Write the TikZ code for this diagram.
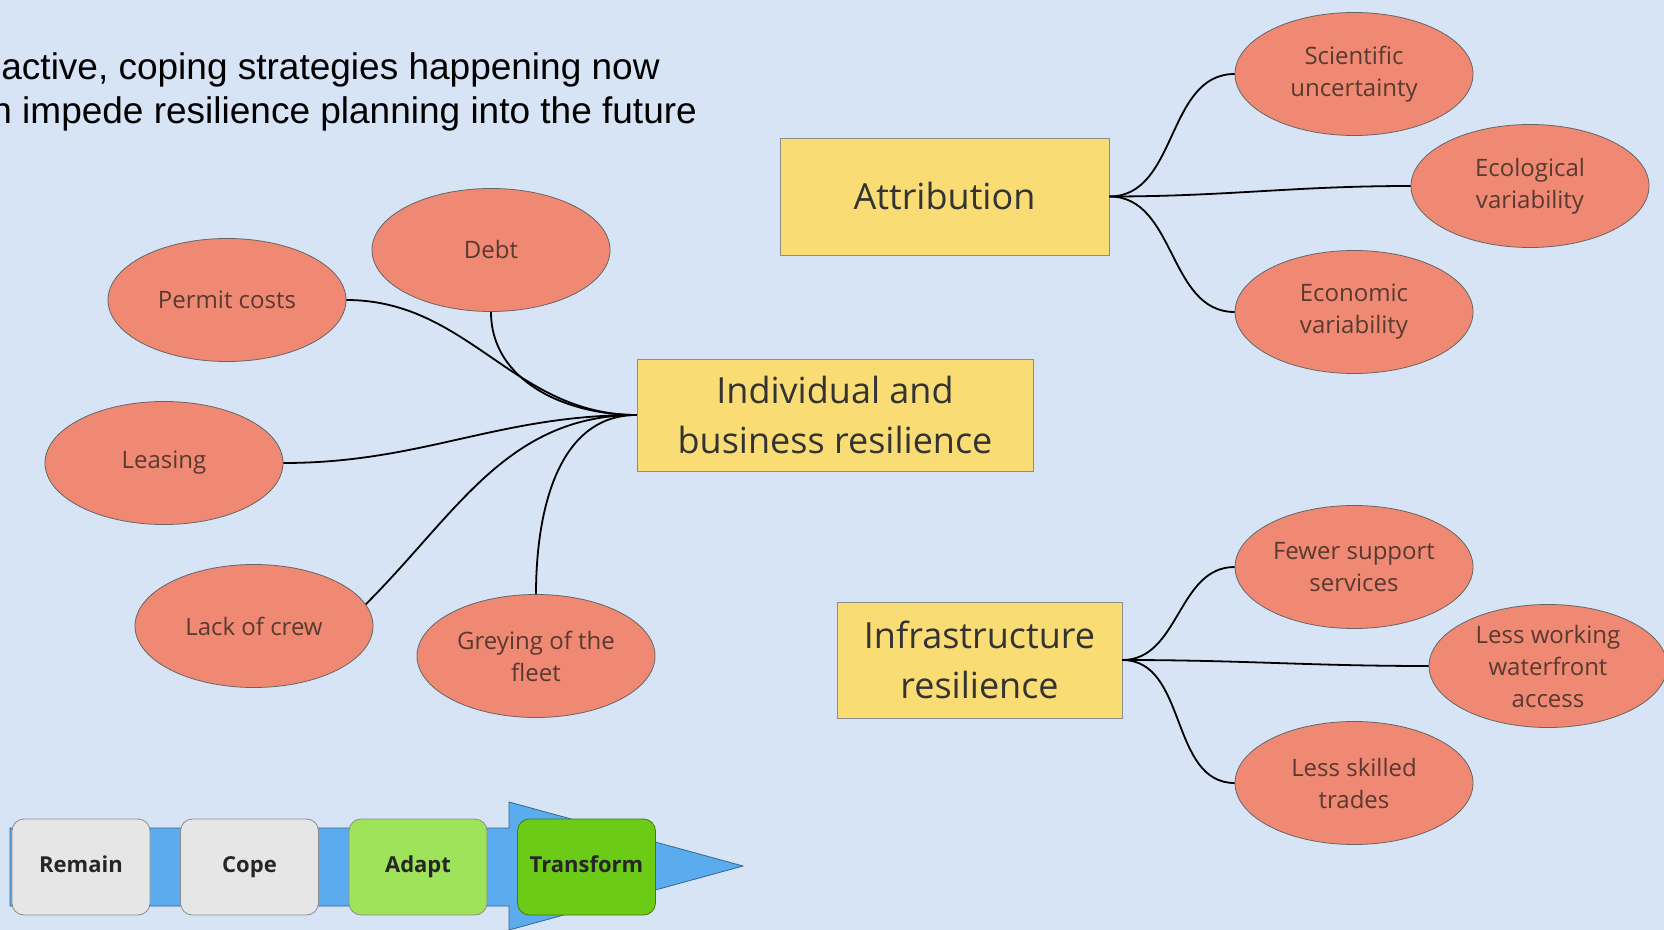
\documentclass[tikz,border=0pt]{standalone}
\usepackage{fontspec}
\setmainfont{Open Sans}
\newfontfamily\arialfont{Liberation Sans}
\usepackage{xcolor}
\usetikzlibrary{shapes.geometric}

\definecolor{bgblue}{RGB}{214,228,245}
\definecolor{salmon}{RGB}{240,137,115}
\definecolor{leaftext}{RGB}{88,58,48}
\definecolor{topicyellow}{RGB}{250,220,117}
\definecolor{arrowblue}{RGB}{90,172,238}
\definecolor{stagegrey}{RGB}{230,230,230}
\definecolor{adaptgreen}{RGB}{158,227,90}
\definecolor{transgreen}{RGB}{108,203,22}

\begin{document}
\begin{tikzpicture}[x=0.5pt, y=-0.5pt,
	leaf/.style={draw=black!60, fill=salmon, ellipse, minimum width=119pt, minimum height=61.5pt, inner sep=0pt, align=center, text=leaftext, font=\fontsize{12}{16}\selectfont},
	topic/.style={draw=black!45, fill=topicyellow, inner sep=0pt, align=center, text=black!80, font=\fontsize{18}{25}\selectfont},
	stage/.style={draw=black!45, rounded corners=6pt, minimum width=69pt, minimum height=48pt, inner sep=0pt, text height=8pt, text depth=2.6pt, text=black!85, font=\fontsize{11}{13}\selectfont\bfseries},
	link/.style={line width=0.9pt}]
	%Bakgrunn
	\fill[bgblue] (0,0) rectangle (1664,930);
	\useasboundingbox (0,0) rectangle (1664,930);

	%Tekst oppe
	\node[anchor=base west, inner sep=0pt, font=\arialfont\fontsize{18.5}{22.5}\selectfont] (note1) at (1,80) {active, coping strategies happening now};
	\node[anchor=base west, inner sep=0pt, font=\arialfont\fontsize{18.5}{22.5}\selectfont] (note2) at (-9,124) {n impede resilience planning into the future};

	%Hovednodene
	\node[topic, minimum width=164.5pt, minimum height=58.5pt] (att) at (944.5,196.5) {Attribution};
	\node[topic, minimum width=198pt, minimum height=56pt] (ind) at (835,415) {Individual and\\business resilience};
	\node[topic, minimum width=142.5pt, minimum height=58pt] (inf) at (979.5,660) {Infrastructure\\resilience};

	%Ellipsene
	\node[leaf] (sci) at (1354,74) {Scientific\\uncertainty};
	\node[leaf] (eco) at (1530,186) {Ecological\\variability};
	\node[leaf] (econ) at (1354,312) {Economic\\variability};
	\node[leaf] (debt) at (491,250) {Debt};
	\node[leaf] (permit) at (227,300) {Permit costs};
	\node[leaf] (leasing) at (164,463) {Leasing};
	\node[leaf] (crew) at (254,626) {Lack of crew};
	\node[leaf] (grey) at (536,656) {Greying of the\\fleet};
	\node[leaf] (fewer) at (1354,567) {Fewer support\\services};
	\node[leaf] (water) at (1548,666) {Less working\\waterfront\\access};
	\node[leaf] (trades) at (1354,783) {Less skilled\\trades};

	%Kantene
	\draw[link] (att.east) to[out=0, in=180] (sci.west);
	\draw[link] (att.east) to[out=0, in=180] (eco.west);
	\draw[link] (att.east) to[out=0, in=180] (econ.west);
	\draw[link] (ind.west) to[out=180, in=0] (permit.east);
	\draw[link] (ind.west) to[out=180, in=-90] (debt.south);
	\draw[link] (ind.west) to[out=180, in=0] (leasing.east);
	\draw[link] (ind.west) to[out=180, in=45] (crew.11);
	\draw[link] (ind.west) to[out=180, in=90] (grey.north);
	\draw[link] (inf.east) to[out=0, in=180] (fewer.west);
	\draw[link] (inf.east) to[out=0, in=180] (water.west);
	\draw[link] (inf.east) to[out=0, in=180] (trades.west);

	%Pila nederst
	\filldraw[fill=arrowblue, draw=arrowblue!60!black, line width=0.4pt] (10,828) -- (509,828) -- (509,802) -- (743,866) -- (509,930) -- (509,906) -- (10,906) -- cycle;
	\node[stage, fill=stagegrey] (remain) at (81,867) {Remain};
	\node[stage, fill=stagegrey] (cope) at (249.5,867) {Cope};
	\node[stage, fill=adaptgreen] (adapt) at (418,867) {Adapt};
	\node[stage, fill=transgreen, draw=transgreen!60!black] (transform) at (586.5,867) {Transform};
\end{tikzpicture}
\end{document}
